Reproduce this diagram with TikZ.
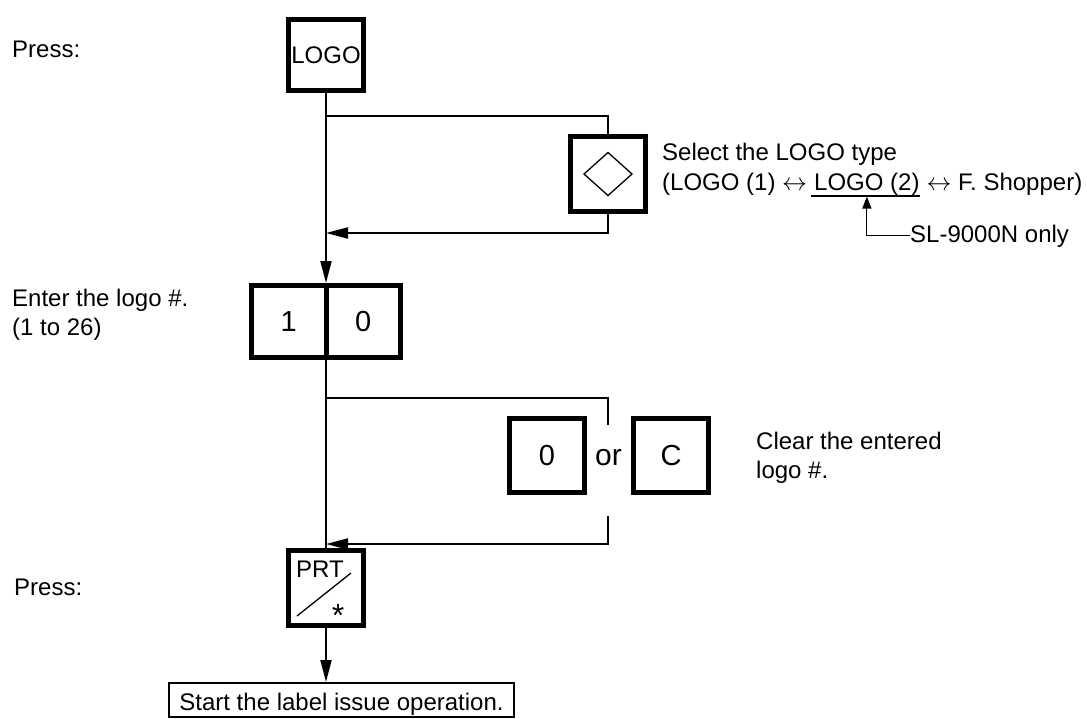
\documentclass[tikz,border=0pt]{standalone}
\usepackage{fontspec}
\setmainfont{Liberation Sans}
\usetikzlibrary{arrows.meta}
\begin{document}
\begin{tikzpicture}[x=1pt,y=-1pt,
  font=\fontsize{24}{28}\selectfont,
  key/.style={draw, line width=5pt, inner sep=0pt, outer sep=0pt, minimum width=75pt, minimum height=75pt},
  bigkey/.style={key, font=\fontsize{29}{32}\selectfont},
  conn/.style={line width=2pt},
  arr/.style={conn, -{Triangle[length=22pt,width=11pt]}},
  txt/.style={inner sep=0pt, anchor=base west},
  thinline/.style={line width=1.3pt}]
\useasboundingbox (0,0) rectangle (1087,718);
\clip (0,0) rectangle (1087,718);

% left labels
\node[txt] (press1) at (12,57) {Press:};
\node[txt] (enter1) at (12,306) {Enter the logo \#.};
\node[txt] (enter2) at (12,335) {(1 to 26)};
\node[txt] (press2) at (14,595) {Press:};

% keys
\node[key, minimum height=71pt] (logo) at (326,55) {LOGO};
\node[key] (dia) at (608,174) {};
\draw[thinline] ([xshift=-24pt]dia.center) -- ([yshift=21.5pt]dia.center)
  -- ([xshift=24pt]dia.center) -- ([yshift=-21.5pt]dia.center) -- cycle;
\node[bigkey, minimum width=74.5pt, minimum height=72pt] (k1) at (288.75,321.5) {1};
\node[bigkey, minimum width=74.5pt, minimum height=72pt] (k0) at (363.25,321.5) {0};
\node[bigkey, minimum height=74pt] (kz) at (547,455.5) {0};
\node[inner sep=0pt, anchor=base, font=\fontsize{30}{32}\selectfont] (or) at (608.5,465) {or};
\node[bigkey, minimum height=74pt] (kc) at (671,455.5) {C};
\node[key] (prt) at (326,588) {};
\node[txt] (prtl) at (296,577) {PRT};
\draw[thinline] ([shift={(-29pt,-28pt)}]prt.center) -- ([shift={(25pt,15pt)}]prt.center);
\node[inner sep=0pt, anchor=base, font=\fontsize{32}{34}\selectfont] (star) at (338,626) {*};

% description texts
\node[txt] (sel1) at (662,160.5) {Select the LOGO type};
\node[txt] (sel2a) at (662,190) {(LOGO (1) $\leftrightarrow$};
\node[txt] (sel2b) at ([xshift=6.7pt]sel2a.base east) {LOGO (2)};
\node[txt] (sel2c) at ([xshift=6.7pt]sel2b.base east) {$\leftrightarrow$ F. Shopper)};
\draw[line width=1.2pt] ([yshift=-6pt,xshift=-3pt]sel2b.base west) -- ([yshift=-6pt]sel2b.base east);
\coordinate (ulm) at ([yshift=-6.5pt]sel2b.base);
\node[txt] (sl) at (910,242) {SL-9000N only};
\draw[line width=1.2pt, -{Triangle[length=12pt,width=9pt]}] (sl.west) -| (ulm);

\node[txt] (clear1) at (756,449) {Clear the entered};
\node[txt] (clear2) at (756,478) {logo \#.};

% output box
\node[draw, line width=2pt, inner sep=0pt, minimum width=345pt, minimum height=34pt,
  text height=22pt, text depth=2pt, anchor=north] (out) at (341.5,682)
  {Start the label issue operation.};

% connectors
\coordinate (b1) at (326,116);
\coordinate (r1) at (326,233);
\coordinate (b2) at (326,398);
\coordinate (g1) at (608,425);
\coordinate (g2) at (608,516);
\coordinate (r2) at (326,544);
\coordinate (t1) at (326,283);
\draw[arr] (logo.south) -- (t1);
\draw[conn] (b1) -| (dia.north);
\draw[arr] (dia.south) |- (r1);
\draw[conn] (k1.south east) -- (prt.north);
\draw[conn] (b2) -| (g1);
\draw[arr] (g2) |- (r2);
\draw[arr] (prt.south) -- (prt.south |- out.north);
\end{tikzpicture}
\end{document}
